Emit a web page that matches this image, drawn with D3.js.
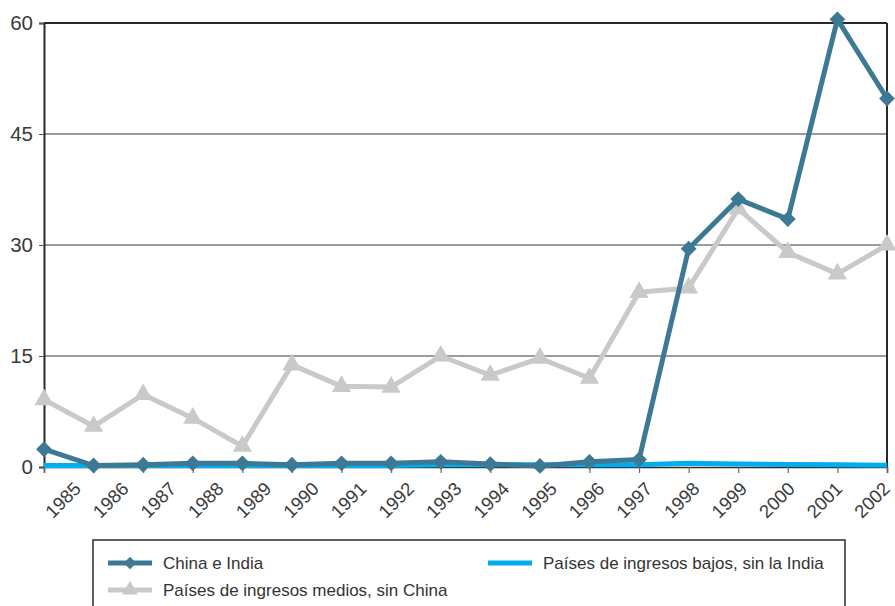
<!DOCTYPE html>
<html><head><meta charset="utf-8">
<script src="https://cdn.jsdelivr.net/npm/d3@7"></script>
<style>
html,body{margin:0;padding:0;background:#fff;}
text{font-family:"Liberation Sans",Arial,sans-serif;}
</style></head>
<body>
<svg id="chart" width="895" height="606"></svg>
<script>
const years = ["1985","1986","1987","1988","1989","1990","1991","1992","1993","1994","1995","1996","1997","1998","1999","2000","2001","2002"];
const chinaIndia = [2.4,0.2,0.3,0.5,0.5,0.3,0.5,0.5,0.7,0.4,0.15,0.7,1.0,29.5,36.2,33.5,60.5,49.8];
const medios = [9.1,5.5,9.8,6.6,2.8,13.8,10.9,10.8,15.0,12.4,14.7,12.0,23.6,24.2,34.9,29.0,26.1,30.0];
const bajos = [0.2,0.2,0.2,0.2,0.2,0.2,0.2,0.2,0.3,0.3,0.3,0.3,0.3,0.5,0.4,0.35,0.3,0.25];
const yTicks = [0,15,30,45,60];
const seriesNames = ["China e India","Países de ingresos medios, sin China","Países de ingresos bajos, sin la India"];

const svg = d3.select("#chart");
const L = 44, R = 887, T = 23, B = 467;
const x = d3.scalePoint().domain(years).range([L, R]);
const xLab = d3.scalePoint().domain(years).range([63, 872]);
const y = d3.scaleLinear().domain([0, 60]).range([B, T]);

const cChina = "#3d7994", cMed = "#c8c9ca", cBaj = "#00aeef";

// gridlines
svg.append("g").selectAll("line").data([15,30,45]).join("line")
  .attr("x1", L).attr("x2", R).attr("y1", d => y(d)).attr("y2", d => y(d))
  .attr("stroke", "#3a3a3a").attr("stroke-width", 1.2);

// frame top and right
svg.append("line").attr("x1", L).attr("x2", R).attr("y1", y(60)).attr("y2", y(60))
  .attr("stroke", "#2a2a2a").attr("stroke-width", 2);
svg.append("line").attr("x1", R).attr("x2", R).attr("y1", y(60)).attr("y2", B)
  .attr("stroke", "#2a2a2a").attr("stroke-width", 2);

// y axis
const yAxis = svg.append("g").attr("transform", `translate(${L},0)`)
  .call(d3.axisLeft(y).tickValues(yTicks).tickSize(5).tickPadding(6));
yAxis.select(".domain").attr("stroke", "#2a2a2a").attr("stroke-width", 2);
yAxis.selectAll(".tick line").attr("stroke", "#555");
yAxis.selectAll(".tick text").attr("font-size", 20.5).attr("fill", "#3a3a3a")
  .attr("font-family", "Liberation Sans, Arial, sans-serif");

// x axis
const xAxis = svg.append("g").attr("transform", `translate(0,${B})`)
  .call(d3.axisBottom(x).tickSize(6).tickFormat(""));
xAxis.select(".domain").attr("stroke", "#2a2a2a").attr("stroke-width", 1.5);
xAxis.selectAll(".tick line").attr("stroke", "#666").attr("stroke-width", 1.2);

svg.append("g").selectAll("text").data(years).join("text")
  .attr("transform", d => `translate(${xLab(d)},500) rotate(-45)`)
  .attr("text-anchor", "middle").attr("dy", "0.35em")
  .attr("font-size", 18.5).attr("fill", "#3a3a3a").text(d => d);

const line = d3.line().x((d, i) => x(years[i])).y(d => y(d));

// medios
svg.append("path").datum(medios).attr("d", line).attr("fill", "none")
  .attr("stroke", cMed).attr("stroke-width", 5).attr("stroke-linejoin", "round");
const tri = d3.symbol().type(d3.symbolTriangle).size(160);
svg.append("g").selectAll("path").data(medios).join("path")
  .attr("transform", (d, i) => `translate(${x(years[i])},${y(d)})`)
  .attr("d", tri).attr("fill", cMed);

// bajos
svg.append("path").datum(bajos).attr("d", line).attr("fill", "none")
  .attr("stroke", cBaj).attr("stroke-width", 5).attr("stroke-linejoin", "round");

// china e india
svg.append("path").datum(chinaIndia).attr("d", line).attr("fill", "none")
  .attr("stroke", cChina).attr("stroke-width", 5).attr("stroke-linejoin", "miter");
svg.append("g").selectAll("path").data(chinaIndia).join("path")
  .attr("transform", (d, i) => `translate(${x(years[i])},${y(d)}) rotate(45)`)
  .attr("d", d3.symbol().type(d3.symbolSquare).size(125)).attr("fill", cChina);

// legend
const lg = svg.append("g");
lg.append("rect").attr("x", 93).attr("y", 540).attr("width", 752).attr("height", 90)
  .attr("fill", "none").attr("stroke", "#2a2a2a").attr("stroke-width", 1.5);
const items = [
  {name: seriesNames[0], color: cChina, mark: "d", x: 108, y: 563},
  {name: seriesNames[1], color: cMed, mark: "t", x: 108, y: 590},
  {name: seriesNames[2], color: cBaj, mark: null, x: 488, y: 563}
];
items.forEach(it => {
  lg.append("line").attr("x1", it.x).attr("x2", it.x + 44).attr("y1", it.y).attr("y2", it.y)
    .attr("stroke", it.color).attr("stroke-width", 5);
  if (it.mark === "d") {
    lg.append("path").attr("transform", `translate(${it.x + 22},${it.y}) rotate(45)`)
      .attr("d", d3.symbol().type(d3.symbolSquare).size(80)).attr("fill", it.color);
  } else if (it.mark === "t") {
    lg.append("path").attr("transform", `translate(${it.x + 22},${it.y})`)
      .attr("d", d3.symbol().type(d3.symbolTriangle).size(110)).attr("fill", it.color);
  }
  lg.append("text").attr("x", it.x + 55).attr("y", it.y).attr("dy", "0.35em")
    .attr("font-size", 17).attr("fill", "#333").text(it.name);
});
</script>
</body></html>
